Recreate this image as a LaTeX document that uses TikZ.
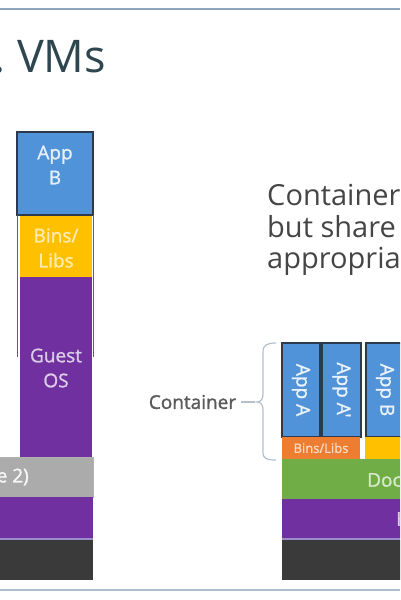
\documentclass[tikz,border=0pt]{standalone}
\usepackage{fontspec}
\setmainfont{Open Sans}
\newfontfamily\semib[FakeBold=1.3]{Open Sans}
\definecolor{appblue}{HTML}{5193D8}
\definecolor{appborder}{HTML}{2B3B4D}
\definecolor{binsyellow}{HTML}{FFC000}
\definecolor{osviolet}{HTML}{7030A0}
\definecolor{hvgrey}{HTML}{ABABAB}
\definecolor{infradark}{HTML}{3A3A3A}
\definecolor{dockgreen}{HTML}{70AD47}
\definecolor{binsorange}{HTML}{ED7D31}
\definecolor{titlecol}{HTML}{2E4650}
\definecolor{bodycol}{HTML}{454545}
\definecolor{labelcol}{HTML}{5A5A5A}
\definecolor{bracecol}{HTML}{B4C0CC}
\definecolor{rulecol}{HTML}{8EA4BC}
\definecolor{seplav}{HTML}{9C8CC8}
\begin{document}
\begin{tikzpicture}[x=1pt,y=-1pt,
  layer/.style={inner sep=0pt, outer sep=0pt, draw=none},
  appbox/.style={layer, fill=appblue, draw=appborder, line width=1.4pt},
  boxtext/.style={inner sep=0pt, align=center, font=\semib\fontsize{19}{25}\selectfont},
  rottext/.style={inner sep=0pt, rotate=-90, text=white!88!appblue, font=\semib\fontsize{19}{23}\selectfont},
  braceline/.style={bracecol, line width=1.2pt}]
\useasboundingbox (0,0) rectangle (400,600);
\clip (0,0) rectangle (400,600);
\fill[white] (0,0) rectangle (400,600);
% frame lines
\draw[rulecol, line width=1.6pt] (0,9) -- (400,9);
\draw[rulecol!70, line width=1.2pt] (0,590) -- (400,590);
% title
\node[inner sep=0pt, anchor=base west, text=titlecol, font=\fontsize{45}{54}\selectfont] (dot) at (-7,72) {.};
\node[inner sep=0pt, anchor=base west, text=titlecol, font=\fontsize{45}{54}\selectfont] (title) at (17,72) {VMs};
% ---------- left: VM stack ----------
\node[layer, fill=osviolet, minimum width=72pt, minimum height=180pt] (guest) at (56,367) {};
\node[layer, fill=binsyellow, minimum width=72pt, minimum height=62pt] (binsl) at (56,246) {};
\node[appbox, minimum width=76pt, minimum height=83pt] (appb) at (55,173.5) {};
\draw[appborder!80, line width=0.9pt] (17,215) -- (17,357) (93,215) -- (93,357);
\node[boxtext, text=white!85!appblue] (appbt) at (55,165) {App\\B};
\node[boxtext, text=white!70!binsyellow] (binslt) at (56,248) {Bins/\\Libs};
\node[boxtext, text=white!75!osviolet] (guestt) at (56,368) {Guest\\OS};
\node[layer, fill=hvgrey, draw=gray!60, line width=0.6pt, minimum width=103pt, minimum height=40pt] (hyper) at (41.5,477) {};
\node[boxtext, anchor=east, text=white!92!hvgrey] (hypert) at (29,477) {e 2)};
\node[layer, fill=osviolet, minimum width=103pt, minimum height=41pt] (hostl) at (41.5,517.5) {};
\fill[seplav] (-10,537.5) rectangle (93,540);
\node[layer, fill=infradark, minimum width=103pt, minimum height=40pt] (infral) at (41.5,560) {};
% ---------- right: text ----------
\node[inner sep=0pt, anchor=base west, text=bodycol, font=\fontsize{29}{32}\selectfont] (l1) at (267,205) {Container};
\node[inner sep=0pt, anchor=base west, text=bodycol, font=\fontsize{29}{32}\selectfont] (l2) at (267,237) {but share};
\node[inner sep=0pt, anchor=base west, text=bodycol, font=\fontsize{29}{32}\selectfont] (l3) at (267,268) {appropria};
% ---------- right: container stack ----------
\node[appbox, minimum width=38pt, minimum height=94pt] (appa) at (301,390) {};
\node[appbox, minimum width=39pt, minimum height=94pt] (appa2) at (341.5,390) {};
\node[appbox, minimum width=44pt, minimum height=94pt] (appb2) at (388,390) {};
\node[rottext] (appat) at (301,390) {App A};
\node[rottext] (appa2t) at (341.5,390) {App A'};
\node[rottext] (appb2t) at (385,390) {App B};
\node[layer, fill=binsorange, minimum width=78pt, minimum height=22pt] (binsa) at (321,448) {};
\node[inner sep=0pt, text=white!72!binsorange, font=\semib\fontsize{13}{15}\selectfont] (binsat) at (321,448) {Bins/Libs};
\node[layer, fill=binsyellow, minimum width=45pt, minimum height=22pt] (binsb) at (387.5,448) {};
\node[layer, fill=dockgreen, minimum width=128pt, minimum height=40pt] (docker) at (346,479) {};
\node[inner sep=0pt, anchor=west, text=white!72!dockgreen, font=\semib\fontsize{19}{23}\selectfont] (dockert) at (367,480) {Doc};
\node[layer, fill=osviolet, minimum width=128pt, minimum height=39pt] (hostr) at (346,518.5) {};
\node[inner sep=0pt, anchor=west, text=white!75!osviolet, font=\semib\fontsize{19}{23}\selectfont] (hostrt) at (396,519) {H};
\fill[seplav] (282,537.5) rectangle (410,540);
\node[layer, fill=infradark, minimum width=128pt, minimum height=40pt] (infrar) at (346,560) {};
% container label and brace
\node[inner sep=0pt, text=labelcol, font=\semib\fontsize{19}{23}\selectfont] (clabel) at (192.5,402) {Container};
\coordinate (brtip) at (257,402);
\draw[braceline] (276,343) .. controls (267,343) and (263,345) .. (263,352) -- (263,394) .. controls (263,399) and (261,402) .. (brtip) .. controls (261,402) and (263,405) .. (263,410) -- (263,452) .. controls (263,459) and (267,460) .. (276,460);
\draw[braceline] ([xshift=5pt]clabel.east) -- ([xshift=-2pt]brtip);
\end{tikzpicture}
\end{document}
